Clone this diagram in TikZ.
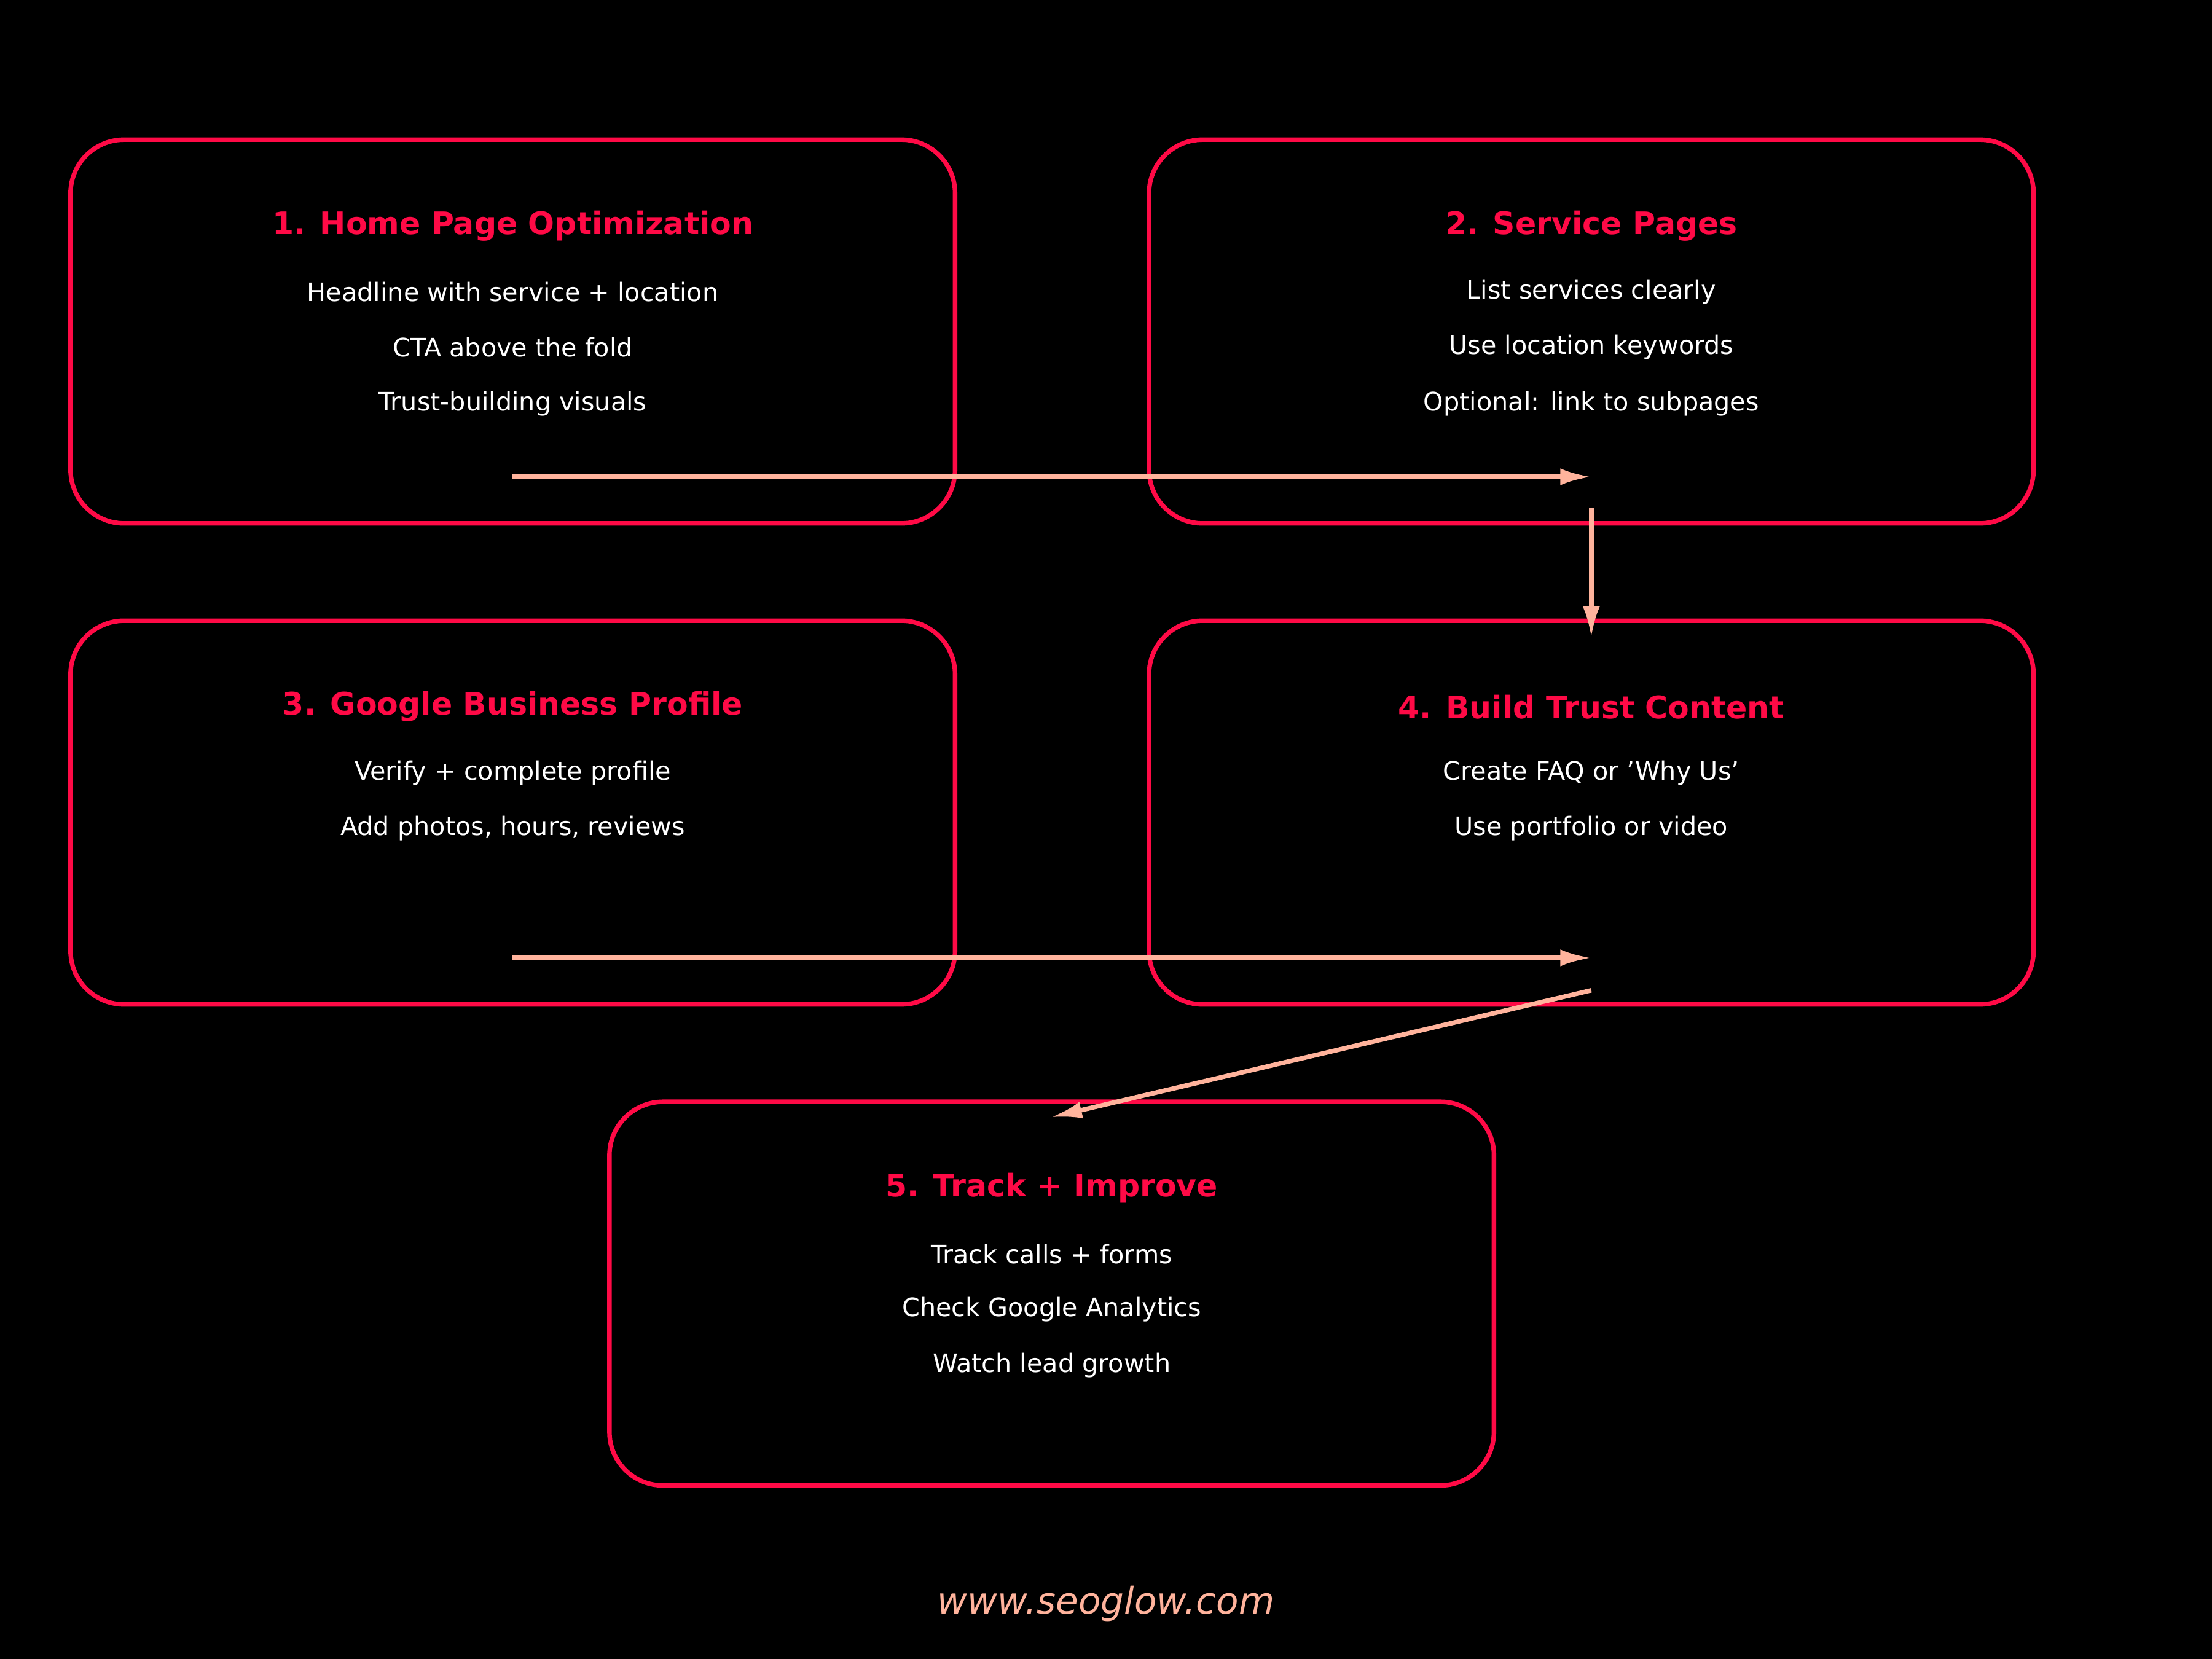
\documentclass[tikz,border=0pt]{standalone}
\usepackage{fontspec}
\setmainfont{DejaVu Sans}
\usetikzlibrary{arrows.meta, positioning}
\definecolor{stepred}{HTML}{FF0A46}
\definecolor{flowpeach}{HTML}{FFB39C}

\begin{document}
\begin{tikzpicture}[x=0.5pt, y=-0.5pt,
  stepbox/.style={draw=stepred, line width=1.6pt, rounded corners=19pt, minimum width=313.5pt, minimum height=136pt, inner sep=0pt},
  steptitle/.style={text=stepred, font=\bfseries\fontsize{11}{13}\selectfont},
  stepline/.style={text=white, font=\fontsize{9}{11}\selectfont},
  flow/.style={draw=flowpeach, line width=1.6pt, -{Latex[length=11pt, width=6pt]}}]
  \fill[black] (0,0) rectangle (1568,1176);
  % boxes
  \node[stepbox] (home) at (363.5,235) {};
  \node[stepbox] (service) at (1128,235) {};
  \node[stepbox] (gbp) at (363.5,576) {};
  \node[stepbox] (trust) at (1128,576) {};
  \node[stepbox] (track) at (745.5,917) {};
  % texts
  \node[steptitle] (t1) at (363.5,160) {1. Home Page Optimization};
  \node[stepline] at (363.5,207) {Headline with service + location};
  \node[stepline] at (363.5,246) {CTA above the fold};
  \node[stepline] at (363.5,286) {Trust-building visuals};
  \node[steptitle] (t2) at (1128,160) {2. Service Pages};
  \node[stepline] at (1128,207) {List services clearly};
  \node[stepline] at (1128,246) {Use location keywords};
  \node[stepline] at (1128,286) {Optional: link to subpages};
  \node[steptitle] (t3) at (363.5,501) {3. Google Business Profile};
  \node[stepline] at (363.5,548) {Verify + complete profile};
  \node[stepline] at (363.5,587) {Add photos, hours, reviews};
  \node[steptitle] (t4) at (1128,501) {4. Build Trust Content};
  \node[stepline] at (1128,548) {Create FAQ or 'Why Us'};
  \node[stepline] at (1128,587) {Use portfolio or video};
  \node[steptitle] (t5) at (745.5,842) {5. Track + Improve};
  \node[stepline] at (745.5,889) {Track calls + forms};
  \node[stepline] at (745.5,928) {Check Google Analytics};
  \node[stepline] at (745.5,968) {Watch lead growth};
  \node[text=flowpeach, font=\itshape\fontsize{13}{15}\selectfont] (site) at (784,1137) {www.seoglow.com};
  % connectors
  \coordinate (a1) at (363,338);
  \coordinate (b1) at (1128,338);
  \coordinate (a2) at (1128,360);
  \coordinate (b2) at (1128,452);
  \coordinate (a3) at (363,679);
  \coordinate (b3) at (1128,679);
  \coordinate (a4) at (1128,702);
  \coordinate (b4) at (745,792);
  \draw[flow] (a1) -- (b1);
  \draw[flow] (a2) -- (b2);
  \draw[flow] (a3) -- (b3);
  \draw[flow] (a4) -- (b4);
\end{tikzpicture}
\end{document}
